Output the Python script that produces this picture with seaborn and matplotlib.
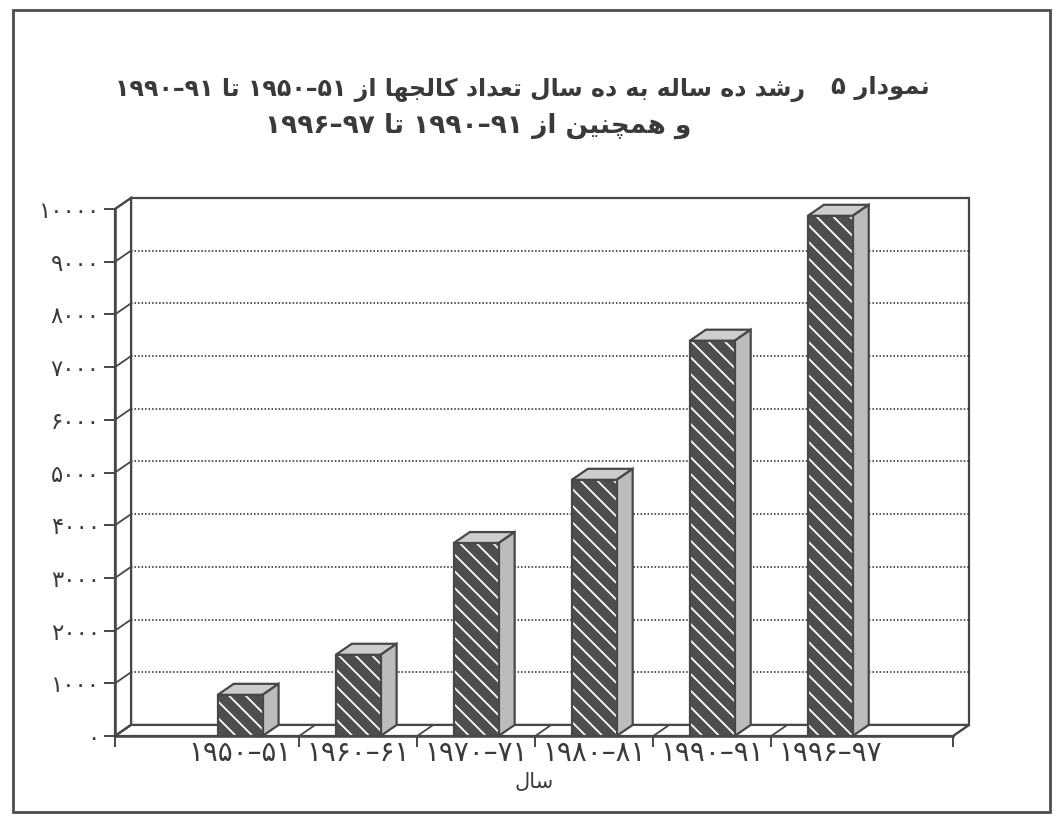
import re

import matplotlib
matplotlib.use("Agg")
import matplotlib.pyplot as plt
import pandas as pd
import seaborn as sns
from matplotlib.patches import Polygon, Rectangle

# ---- data -------------------------------------------------------------
periods = ["۱۹۵۰–۵۱", "۱۹۶۰–۶۱", "۱۹۷۰–۷۱", "۱۹۸۰–۸۱", "۱۹۹۰–۹۱", "۱۹۹۶–۹۷"]
colleges = [780, 1540, 3660, 4860, 7500, 9870]
value_ticks = [0, 1000, 2000, 3000, 4000, 5000, 6000, 7000, 8000, 9000, 10000]
value_tick_labels = ["۰", "۱۰۰۰", "۲۰۰۰", "۳۰۰۰", "۴۰۰۰", "۵۰۰۰",
                     "۶۰۰۰", "۷۰۰۰", "۸۰۰۰", "۹۰۰۰", "۱۰۰۰۰"]
chart_number = "نمودار ۵"
title_line1 = "رشد ده ساله به ده سال تعداد کالجها از ۱۹۵۰–۵۱ تا ۱۹۹۰–۹۱"
title_line2 = "و همچنین از ۱۹۹۰–۹۱ تا ۱۹۹۶–۹۷"
x_title = "سال"

# ---- minimal Persian shaping (contextual forms + right-to-left order) --
FORMS = {
    "ا": ("\uFE8D", "\uFE8E", None, None),
    "ب": ("\uFE8F", "\uFE90", "\uFE91", "\uFE92"),
    "ت": ("\uFE95", "\uFE96", "\uFE97", "\uFE98"),
    "ج": ("\uFE9D", "\uFE9E", "\uFE9F", "\uFEA0"),
    "چ": ("\uFB7A", "\uFB7B", "\uFB7C", "\uFB7D"),
    "د": ("\uFEA9", "\uFEAA", None, None),
    "ر": ("\uFEAD", "\uFEAE", None, None),
    "ز": ("\uFEAF", "\uFEB0", None, None),
    "س": ("\uFEB1", "\uFEB2", "\uFEB3", "\uFEB4"),
    "ش": ("\uFEB5", "\uFEB6", "\uFEB7", "\uFEB8"),
    "ع": ("\uFEC9", "\uFECA", "\uFECB", "\uFECC"),
    "ک": ("\uFB8E", "\uFB8F", "\uFB90", "\uFB91"),
    "ل": ("\uFEDD", "\uFEDE", "\uFEDF", "\uFEE0"),
    "م": ("\uFEE1", "\uFEE2", "\uFEE3", "\uFEE4"),
    "ن": ("\uFEE5", "\uFEE6", "\uFEE7", "\uFEE8"),
    "ه": ("\uFEE9", "\uFEEA", "\uFEEB", "\uFEEC"),
    "و": ("\uFEED", "\uFEEE", None, None),
    "ی": ("\uFBFC", "\uFBFD", "\uFBFE", "\uFBFF"),
}
DIGITS = "۰۱۲۳۴۵۶۷۸۹"


def shape(text):
    out = []
    for i, ch in enumerate(text):
        forms = FORMS.get(ch)
        if forms is None:
            out.append(ch)
            continue
        prev = text[i - 1] if i > 0 else ""
        nxt = text[i + 1] if i + 1 < len(text) else ""
        join_prev = prev in FORMS and FORMS[prev][2] is not None
        join_next = nxt in FORMS and forms[2] is not None
        iso, fin, ini, med = forms
        if join_prev and join_next:
            out.append(med)
        elif join_prev:
            out.append(fin)
        elif join_next:
            out.append(ini)
        else:
            out.append(iso)
    return "".join(out)


def rtl(text):
    parts = re.split(r"([۰-۹][۰-۹–\-]*)", shape(text))
    return "".join(p if p and p[0] in DIGITS else p[::-1] for p in reversed(parts))


# ---- style ------------------------------------------------------------
sns.set_theme(style="white")
plt.rcParams["font.family"] = ["DejaVu Sans"]
plt.rcParams["hatch.color"] = "white"
plt.rcParams["hatch.linewidth"] = 1.3

INK = "#3a3a3a"
EDGE = "#474747"
FRONT = "#4e4e4e"
TOP = "#cdcdcd"
SIDE = "#bcbcbc"

W, H = 1061, 819
fig = plt.figure(figsize=(W / 100, H / 100), dpi=100)
fig.patch.set_facecolor("white")

# page frame
fig.add_artist(Rectangle((13 / W, 1 - 812 / H), (1050 - 13) / W, (812 - 10) / H,
                         transform=fig.transFigure, fill=False, ec="#4d4d4d", lw=2))

ax = fig.add_axes([115 / W, 1 - 736 / H, (953 - 115) / W, (736 - 209) / H])
ax.set_facecolor("none")

X0, X1 = -1.06, 6.04
Y0, Y1 = 0, 10000
DX, DY = 0.136, 210          # depth of the 3-D box in data units
BAR_W = 0.38

df = pd.DataFrame({"period": periods, "colleges": colleges})
sns.barplot(data=df, x="period", y="colleges", width=BAR_W, color=FRONT,
            saturation=1, ax=ax)
bars = [p for p in ax.patches if isinstance(p, Rectangle)]

ax.set_xlim(X0, X1)
ax.set_ylim(Y0, Y1)

# back wall with dotted grid
ax.add_patch(Polygon([(X0 + DX, Y0 + DY), (X1 + DX, Y0 + DY), (X1 + DX, Y1 + DY), (X0 + DX, Y1 + DY)],
                     closed=True, fc="white", ec=EDGE, lw=1.6, zorder=0.5, clip_on=False))
for v in value_ticks[1:-1]:
    ax.plot([X0 + DX, X1 + DX], [v + DY, v + DY], color="#222222", lw=1.1,
            ls=(0, (1, 1.3)), zorder=0.6, clip_on=False)

# left wall with tick connectors
ax.add_patch(Polygon([(X0, Y0), (X0, Y1), (X0 + DX, Y1 + DY), (X0 + DX, Y0 + DY)],
                     closed=True, fc="white", ec=EDGE, lw=1.6, zorder=0.7, clip_on=False))
for v in value_ticks:
    ax.plot([X0, X0 + DX], [v, v + DY], color=EDGE, lw=1.3, zorder=0.8, clip_on=False)

# floor with category dividers
ax.add_patch(Polygon([(X0, Y0), (X1, Y0), (X1 + DX, Y0 + DY), (X0 + DX, Y0 + DY)],
                     closed=True, fc="white", ec=EDGE, lw=1.6, zorder=0.7, clip_on=False))
dividers = [X0, 0.5, 1.5, 2.5, 3.5, 4.5, X1]
for b in dividers:
    ax.plot([b, b + DX], [0, DY], color=EDGE, lw=1.3, zorder=0.8, clip_on=False)

# 3-D bars: hatched front from seaborn, plus top and side faces
for p in bars:
    x, w, h = p.get_x(), p.get_width(), p.get_height()
    p.set_facecolor(FRONT)
    p.set_hatch("\\\\")
    p.set_edgecolor("white")
    p.set_linewidth(0)
    p.set_zorder(3)
    ax.add_patch(Rectangle((x, 0), w, h, fill=False, ec=EDGE, lw=1.6, zorder=3.2))
    ax.add_patch(Polygon([(x, h), (x + w, h), (x + w + DX, h + DY), (x + DX, h + DY)],
                         closed=True, fc=TOP, ec=EDGE, lw=1.6, zorder=2.9, clip_on=False))
    ax.add_patch(Polygon([(x + w, 0), (x + w, h), (x + w + DX, h + DY), (x + w + DX, DY)],
                         closed=True, fc=SIDE, ec=EDGE, lw=1.6, zorder=2.9, clip_on=False))

# axes, ticks and labels
for s in ("top", "right"):
    ax.spines[s].set_visible(False)
for s in ("left", "bottom"):
    ax.spines[s].set_color(EDGE)
    ax.spines[s].set_linewidth(1.8)
    ax.spines[s].set_zorder(4)

ax.set_yticks(value_ticks, labels=value_tick_labels)
ax.tick_params(axis="y", direction="out", length=8, width=1.4, color=EDGE,
               pad=3, labelsize=16.5, labelcolor=INK, left=True)
ax.set_xticks(range(len(periods)), labels=periods)
ax.set_xticks(dividers, minor=True)
ax.tick_params(axis="x", which="major", length=0, pad=2, labelsize=20, labelcolor=INK)
ax.tick_params(axis="x", which="minor", direction="out", length=8, width=1.4,
               color=EDGE, bottom=True)
ax.set_xlabel(rtl(x_title), fontsize=15, color=INK, labelpad=4)
ax.set_ylabel("")

# titles
fig.text(930 / W, 1 - 88 / H, rtl(chart_number), ha="right", va="center",
         fontsize=17.5, fontweight="bold", color=INK)
fig.text(460 / W, 1 - 90 / H, rtl(title_line1), ha="center", va="center",
         fontsize=17, fontweight="bold", color=INK)
fig.text(478 / W, 1 - 126 / H, rtl(title_line2), ha="center", va="center",
         fontsize=19, fontweight="bold", color=INK)

fig.savefig("out.png", dpi=100)
